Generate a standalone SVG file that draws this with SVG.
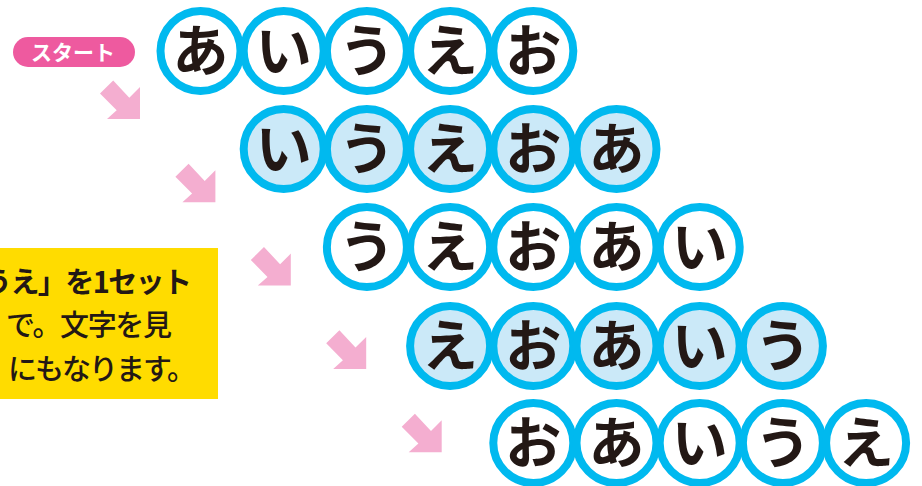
<svg xmlns="http://www.w3.org/2000/svg" xmlns:xlink="http://www.w3.org/1999/xlink" width="922" height="486" viewBox="0 0 922 486">
<style>
.c{stroke:#00b9ef;stroke-width:8}
.w{fill:#ffffff}
.b{fill:#cbe9f8}
.k{font-family:"Noto Sans CJK JP","Noto Sans",sans-serif;font-size:56px;font-weight:700;fill:#231815;text-anchor:middle}
.note{font-family:"Noto Sans CJK JP","Noto Sans",sans-serif;font-size:29px;fill:#231815}
.arr{fill:#f4aed0}
</style>
<defs>
<path id="ar" d="M0,0 L-33,0 L-23.3,-8.7 L-40,-25.6 L-26.8,-38.6 L-10.7,-21.3 L0,-32 Z"/>
</defs>
<g id="start">
<rect x="13" y="37" width="122" height="30" rx="15" fill="#ee5a9f"/>
<text x="73" y="59.5" font-family="'Noto Sans CJK JP','Noto Sans',sans-serif" font-size="21" font-weight="700" fill="#ffffff" text-anchor="middle">スタート</text>
</g>
<g id="note">
<rect x="-10" y="248" width="228" height="151" fill="#ffdc00"/>
<text class="note" x="-17" y="293" font-weight="700" textLength="209" lengthAdjust="spacing">うえ」を1セット</text>
<text class="note" x="6" y="336" font-weight="500" textLength="166" lengthAdjust="spacing">で。文字を見</text>
<text class="note" x="8" y="380" font-weight="500" textLength="188" lengthAdjust="spacing">にもなります。</text>
</g>
<g id="connectors" class="arr">
<use xlink:href="#ar" href="#ar" transform="translate(140,119)"/>
<use xlink:href="#ar" href="#ar" transform="translate(215.4,202.3)"/>
<use xlink:href="#ar" href="#ar" transform="translate(290.8,285.6)"/>
<use xlink:href="#ar" href="#ar" transform="translate(366.2,368.9)"/>
<use xlink:href="#ar" href="#ar" transform="translate(441.7,452.3)"/>
</g>
<g id="row1">
<g id="r1c1"><circle class="c w" cx="200.5" cy="51" r="40"/><text class="k" x="200.5" y="71">あ</text></g>
<g id="r1c2"><circle class="c w" cx="283.7" cy="51" r="40"/><text class="k" x="283.7" y="71">い</text></g>
<g id="r1c3"><circle class="c w" cx="366.9" cy="51" r="40"/><text class="k" x="366.9" y="71">う</text></g>
<g id="r1c4"><circle class="c w" cx="450.1" cy="51" r="40"/><text class="k" x="450.1" y="71">え</text></g>
<g id="r1c5"><circle class="c w" cx="533.3" cy="51" r="40"/><text class="k" x="533.3" y="71">お</text></g>
</g>
<g id="row2">
<g id="r2c1"><circle class="c b" cx="283.7" cy="149" r="40"/><text class="k" x="283.7" y="169">い</text></g>
<g id="r2c2"><circle class="c b" cx="366.9" cy="149" r="40"/><text class="k" x="366.9" y="169">う</text></g>
<g id="r2c3"><circle class="c b" cx="450.1" cy="149" r="40"/><text class="k" x="450.1" y="169">え</text></g>
<g id="r2c4"><circle class="c b" cx="533.3" cy="149" r="40"/><text class="k" x="533.3" y="169">お</text></g>
<g id="r2c5"><circle class="c b" cx="616.5" cy="149" r="40"/><text class="k" x="616.5" y="169">あ</text></g>
</g>
<g id="row3">
<g id="r3c1"><circle class="c w" cx="366.9" cy="247" r="40"/><text class="k" x="366.9" y="267">う</text></g>
<g id="r3c2"><circle class="c w" cx="450.1" cy="247" r="40"/><text class="k" x="450.1" y="267">え</text></g>
<g id="r3c3"><circle class="c w" cx="533.3" cy="247" r="40"/><text class="k" x="533.3" y="267">お</text></g>
<g id="r3c4"><circle class="c w" cx="616.5" cy="247" r="40"/><text class="k" x="616.5" y="267">あ</text></g>
<g id="r3c5"><circle class="c w" cx="699.7" cy="247" r="40"/><text class="k" x="699.7" y="267">い</text></g>
</g>
<g id="row4">
<g id="r4c1"><circle class="c b" cx="450.1" cy="346" r="40"/><text class="k" x="450.1" y="366">え</text></g>
<g id="r4c2"><circle class="c b" cx="533.3" cy="346" r="40"/><text class="k" x="533.3" y="366">お</text></g>
<g id="r4c3"><circle class="c b" cx="616.5" cy="346" r="40"/><text class="k" x="616.5" y="366">あ</text></g>
<g id="r4c4"><circle class="c b" cx="699.7" cy="346" r="40"/><text class="k" x="699.7" y="366">い</text></g>
<g id="r4c5"><circle class="c b" cx="782.9" cy="346" r="40"/><text class="k" x="782.9" y="366">う</text></g>
</g>
<g id="row5">
<g id="r5c1"><circle class="c w" cx="533.3" cy="443" r="40"/><text class="k" x="533.3" y="463">お</text></g>
<g id="r5c2"><circle class="c w" cx="616.5" cy="443" r="40"/><text class="k" x="616.5" y="463">あ</text></g>
<g id="r5c3"><circle class="c w" cx="699.7" cy="443" r="40"/><text class="k" x="699.7" y="463">い</text></g>
<g id="r5c4"><circle class="c w" cx="782.9" cy="443" r="40"/><text class="k" x="782.9" y="463">う</text></g>
<g id="r5c5"><circle class="c w" cx="866.1" cy="443" r="40"/><text class="k" x="866.1" y="463">え</text></g>
</g>
</svg>
